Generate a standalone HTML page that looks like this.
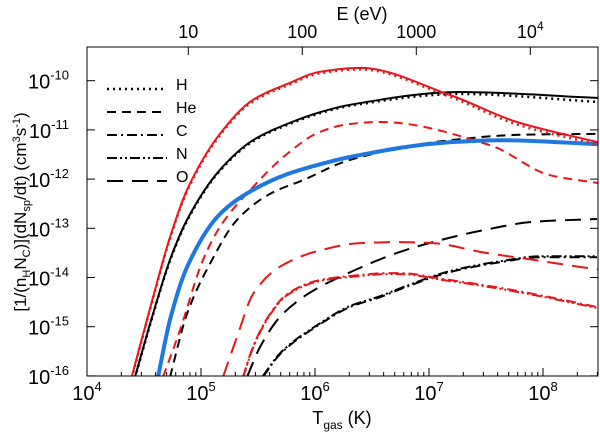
<!DOCTYPE html>
<html><head><meta charset="utf-8"><style>
html,body{margin:0;padding:0;background:#fff;}
svg{display:block;font-family:"Liberation Sans",Arial,sans-serif;}
</style></head><body>
<svg id="chart" width="600" height="436" viewBox="0 0 600 436">
<defs><clipPath id="plotclip"><rect x="87" y="47" width="511" height="329"/></clipPath></defs>
<g id="marks" clip-path="url(#plotclip)"></g>
<rect x="87" y="47" width="511" height="329" fill="none" stroke="#000" stroke-width="1"/>
<g id="axes"></g>
<text x="362" y="20" font-size="18" text-anchor="middle">E (eV)</text>
<text x="342" y="424" font-size="18" text-anchor="middle">T<tspan font-size="12" dy="5">gas</tspan><tspan dy="-5"> (K)</tspan></text>
<text transform="translate(26,212) rotate(-90)" font-size="17" text-anchor="middle">[1/(n<tspan font-size="11" dy="4">H</tspan><tspan dy="-4">N</tspan><tspan font-size="11" dy="4">C</tspan><tspan dy="-4">)](dN</tspan><tspan font-size="11" dy="4">sp</tspan><tspan dy="-4">/dt) (cm</tspan><tspan font-size="11" dy="-6">3</tspan><tspan dy="6">s</tspan><tspan font-size="11" dy="-6">-1</tspan><tspan dy="6">)</tspan></text>
<g id="legend"></g>
</svg>
<script>
// ---- data (log10 T, log10 rate) ----
const xTicks = [4,5,6,7,8];
const yTicks = [-10,-11,-12,-13,-14,-15,-16];
const eTicks = [10,100,1000,10000];
const eTickLabels = ["10","100","1000","10^4"];
const redSolidT = [4.392,4.579,4.728,4.877,5.167,5.456,5.754,6.044,6.395,7.184,7.772,8.482];
const redSolidR = [-16.02,-14.40,-13.18,-12.22,-11.08,-10.39,-10.07,-9.82,-9.74,-10.29,-10.84,-11.25];
const redDotR   = [-16.05,-14.43,-13.21,-12.25,-11.11,-10.42,-10.10,-9.85,-9.77,-10.33,-10.89,-11.30];
const blackSolidT = [4.421,4.579,4.728,4.877,5.167,5.456,5.754,6.044,6.307,7.272,8.482];
const blackSolidR = [-16.02,-14.74,-13.64,-12.83,-11.81,-11.21,-10.88,-10.64,-10.49,-10.23,-10.35];
const blackDotR   = [-16.04,-14.76,-13.66,-12.85,-11.83,-11.23,-10.90,-10.66,-10.51,-10.27,-10.43];
const redHeT = [4.667,4.816,5.018,5.167,5.456,5.754,6.044,6.307,6.570,7.535,8.061,8.482];
const redHeR = [-16.02,-15.07,-13.64,-12.97,-12.16,-11.49,-11.04,-10.88,-10.84,-11.31,-11.92,-12.08];
const blueT = [4.623,4.728,4.877,5.167,5.456,5.754,6.044,6.307,7.184,7.623,8.482];
const blueR = [-16.02,-14.86,-13.79,-12.71,-12.22,-11.90,-11.70,-11.55,-11.25,-11.21,-11.29];
const blackHeT = [4.728,4.877,5.079,5.316,5.605,5.895,6.307,7.184,7.798,8.482];
const blackHeR = [-16.02,-14.74,-13.72,-12.83,-12.30,-12.02,-11.61,-11.21,-11.10,-11.08];
const redOT = [5.193,5.316,5.456,5.693,6.044,6.395,6.746,7.035,7.474,7.912,8.342,8.5];
const redOR = [-16.02,-15.21,-14.34,-13.78,-13.45,-13.30,-13.28,-13.30,-13.49,-13.64,-13.79,-13.84];
const blackOT = [5.404,5.518,5.693,5.895,6.044,6.219,6.509,6.746,7.035,7.474,7.912,8.474];
const blackOR = [-16.02,-15.41,-14.80,-14.40,-14.19,-13.99,-13.69,-13.48,-13.28,-13.04,-12.87,-12.81];
const redCNT = [5.368,5.456,5.605,5.754,6.044,6.395,6.632,6.746,7.123,7.623,7.974,8.474];
const redCNR = [-16.02,-15.41,-14.74,-14.34,-14.05,-13.95,-13.91,-13.91,-14.03,-14.21,-14.36,-14.60];
const blackCNT = [5.544,5.693,6.044,6.307,6.570,6.746,7.184,7.623,7.974,8.474];
const blackCNR = [-16.02,-15.56,-14.95,-14.60,-14.40,-14.24,-13.89,-13.69,-13.59,-13.59];
const legendNames = ["H","He","C","N","O"];

const NS="http://www.w3.org/2000/svg";
const X0=87,X1=598,Y0=47,Y1=376;
function xs(lt){return X0+114*(lt-4);}
function ys(lr){return 80.7+49.2*(-10-lr);}
function el(tag,attrs,parent){const e=document.createElementNS(NS,tag);for(const k in attrs)e.setAttribute(k,attrs[k]);parent.appendChild(e);return e;}
function pathD(T,R){
  const X=T.map(xs),Y=R.map(ys),n=X.length;
  const dx=[],s=[];
  for(let i=0;i<n-1;i++){dx.push(X[i+1]-X[i]);s.push((Y[i+1]-Y[i])/dx[i]);}
  const m=new Array(n);
  m[0]=s[0];m[n-1]=s[n-2];
  for(let i=1;i<n-1;i++){
    if(s[i-1]*s[i]<=0)m[i]=0;
    else{const w1=2*dx[i]+dx[i-1],w2=dx[i]+2*dx[i-1];m[i]=(w1+w2)/(w1/s[i-1]+w2/s[i]);}
  }
  let d="M"+X[0].toFixed(1)+","+Y[0].toFixed(1);
  for(let i=0;i<n-1;i++){
    const h=dx[i]/3;
    d+=" C"+(X[i]+h).toFixed(1)+","+(Y[i]+m[i]*h).toFixed(1)+" "+(X[i+1]-h).toFixed(1)+","+(Y[i+1]-m[i+1]*h).toFixed(1)+" "+X[i+1].toFixed(1)+","+Y[i+1].toFixed(1);
  }
  return d;
}
const marks=document.getElementById('marks');
const RED="#e8151b",BLUE="#1f78e0",BLK="#000";
const DOT="2,4",DASH="9,6",DASHDOT="10,4,2,4",DASHDOTDOT="10,3,2,3,2,3",LONG="16,9";
function curve(name,T,R,color,w,dash){
  const p=el('path',{d:pathD(T,R),fill:"none",stroke:color,"stroke-width":w},marks);
  if(dash)p.setAttribute('stroke-dasharray',dash);
  
  
}
curve('black-o-curve',blackOT,blackOR,BLK,2,LONG);
curve('black-c-curve',blackCNT,blackCNR,BLK,2,DASHDOT);
curve('black-n-curve',blackCNT,blackCNR.map(v=>v+0.02),BLK,2,DASHDOTDOT);
curve('red-o-curve',redOT,redOR,RED,2,LONG);
curve('red-c-curve',redCNT,redCNR,RED,2,DASHDOT);
curve('red-n-curve',redCNT,redCNR.map(v=>v-0.02),RED,2,DASHDOTDOT);
curve('black-he-curve',blackHeT,blackHeR,BLK,2,DASH);
curve('red-he-curve',redHeT,redHeR,RED,2,DASH);
curve('blue-total-curve',blueT,blueR,BLUE,4,null);
curve('black-h-dotted-curve',blackSolidT,blackDotR,BLK,2.5,DOT);
curve('black-total-curve',blackSolidT,blackSolidR,BLK,2,null);
curve('red-h-dotted-curve',redSolidT,redDotR,RED,2.5,DOT);
curve('red-total-curve',redSolidT,redSolidR,RED,2,null);

const axes=document.getElementById('axes');
for(let d=4;d<=8;d++){
  for(let m=1;m<=9;m++){
    const lt=d+Math.log10(m);const x=xs(lt);if(x>X1)continue;
    const len=m===1?8:4;
    const t=el('line',{x1:x,y1:Y1,x2:x,y2:Y1-len,stroke:"#000","stroke-width":1},axes);
    
    
  }
}
xTicks.forEach(d=>{
  const g=el('text',{x:xs(d),y:400,"font-size":20,"text-anchor":"middle"},axes);
  
  
  g.innerHTML='10<tspan font-size="13" dy="-9">'+d+'</tspan>';
});
yTicks.forEach(v=>{
  const y=ys(v);
  const a=el('line',{x1:X0,y1:y,x2:X0+8,y2:y,stroke:"#000"},axes);
  
  
  const b=el('line',{x1:X1,y1:y,x2:X1-8,y2:y,stroke:"#000"},axes);
  
  
  const t=el('text',{x:69,y:y+8,"font-size":20,"text-anchor":"end"},axes);
  
  
  t.innerHTML='10<tspan font-size="13" dy="-9">'+v+'</tspan>';
});
const K=1.5*8.617e-5;
eTicks.forEach((E,i)=>{
  const x=xs(Math.log10(E/K));
  const l=el('line',{x1:x,y1:Y0,x2:x,y2:Y0+8,stroke:"#000"},axes);
  
  
  const t=el('text',{x:x,y:38,"font-size":18,"text-anchor":"middle"},axes);
  
  
  const s=eTickLabels[i];
  if(s.indexOf('^')>=0){const p=s.split('^');t.innerHTML=p[0]+'<tspan font-size="12" dy="-8">'+p[1]+'</tspan>';}
  else t.textContent=s;
});
const lg=document.getElementById('legend');
const lgDash=[DOT,DASH,DASHDOT,DASHDOTDOT,LONG];
legendNames.forEach((n,i)=>{
  const y=89+23*i;
  const l=el('line',{x1:107,y1:y,x2:167,y2:y,stroke:"#000","stroke-width":i===0?2.5:2,"stroke-dasharray":lgDash[i]},lg);
  
  
  const t=el('text',{x:176,y:y+1,"font-size":16},lg);
  
  
  t.textContent=n;
});
</script>
</body></html>
